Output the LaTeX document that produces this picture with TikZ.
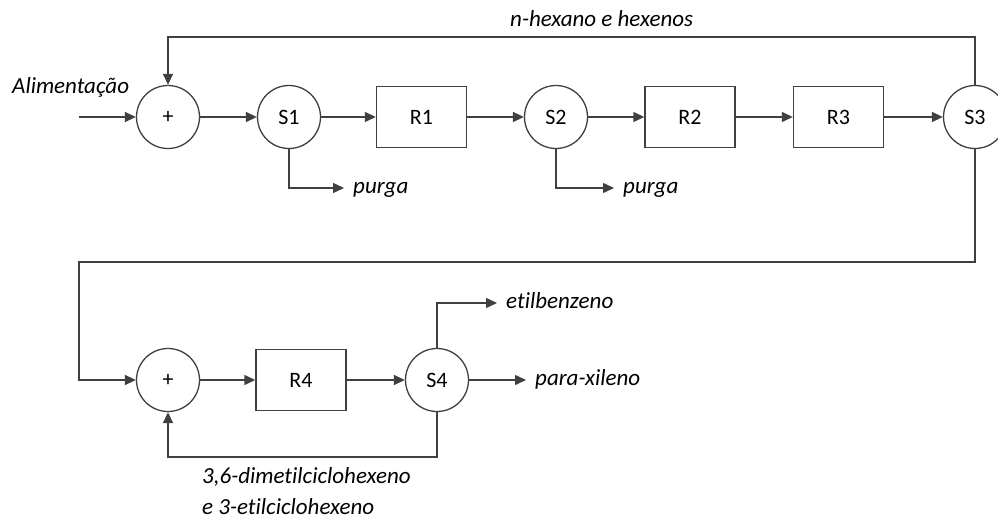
\documentclass[tikz,border=0pt]{standalone}
\usepackage{fontspec}
\setmainfont{Carlito}[Ligatures=NoCommon]
\usetikzlibrary{arrows.meta}
\definecolor{linegray}{RGB}{64,64,64}
\begin{document}
\begin{tikzpicture}[x=1pt,y=-1pt,
  every node/.style={font=\fontsize{22}{26}\selectfont},
  unit/.style={circle, draw=linegray, line width=1.3pt, minimum size=63pt, inner sep=0pt},
  reactor/.style={rectangle, draw=linegray, line width=1.4pt, minimum width=90pt, minimum height=61pt, inner sep=0pt},
  flow/.style={draw=linegray, line width=1.4pt, -{Triangle[length=11pt,width=10pt]}},
  lbl/.style={font=\fontsize{23}{27}\selectfont\itshape, anchor=west, inner xsep=9pt, inner ysep=0pt, text height=10.7pt, text depth=0pt}]
\useasboundingbox (0,0) rectangle (998,519);
\clip (0,0) rectangle (998,519);

% upper line: feed mixer, separators and reactors
\node[unit] (mix1) at (168,117) {+};
\node[unit] (s1) at (289,117) {S1};
\node[reactor] (r1) at (421.5,117) {R1};
\node[unit] (s2) at (556,117) {S2};
\node[reactor] (r2) at (690,117) {R2};
\node[reactor] (r3) at (838.5,117) {R3};
\node[unit] (s3) at (975,117) {S3};

% lower line: second mixer, reactor R4 and separator S4
\node[unit] (mix2) at (168,380) {+};
\node[reactor] (r4) at (301,380) {R4};
\node[unit] (s4) at (437,380) {S4};

% stream labels
\node[lbl] (feed) at (3,88) {Alimentação};
\node[lbl] (recyc) at (501,21) {n-hexano e hexenos};
\node[lbl] (p1) at (344,188) {purga};
\node[lbl] (p2) at (614,188) {purga};
\node[lbl] (eb) at (497,303) {etilbenzeno};
\node[lbl] (px) at (526,380) {para-xileno};
\node[lbl] (cyc1) at (193,478) {3,6-dimetilciclohexeno};
\node[lbl] (cyc2) at (193,509) {e 3-etilciclohexeno};

% auxiliary routing points
\coordinate (in) at (79,117);
\coordinate (top) at (975,37);
\coordinate (down) at (79,262);
\coordinate (back) at (168,457);

% main flow
\draw[flow] (in) -- (mix1);
\draw[flow] (mix1) -- (s1);
\draw[flow] (s1) -- (r1);
\draw[flow] (r1) -- (s2);
\draw[flow] (s2) -- (r2);
\draw[flow] (r2) -- (r3);
\draw[flow] (r3) -- (s3);

% recycle of n-hexane and hexenes
\draw[flow] (s3.north) -- (top) -| (mix1.north);

% purges
\draw[flow] (s1.south) |- (p1.west);
\draw[flow] (s2.south) |- (p2.west);

% transfer to the second section
\draw[flow] (s3.south) |- (down) |- (mix2.west);
\draw[flow] (mix2) -- (r4);
\draw[flow] (r4) -- (s4);

% products
\draw[flow] (s4.north) |- (eb.west);
\draw[flow] (s4) -- (px.west);

% recycle of cyclohexenes
\draw[flow] (s4.south) |- (back) -- (mix2.south);
\end{tikzpicture}
\end{document}
